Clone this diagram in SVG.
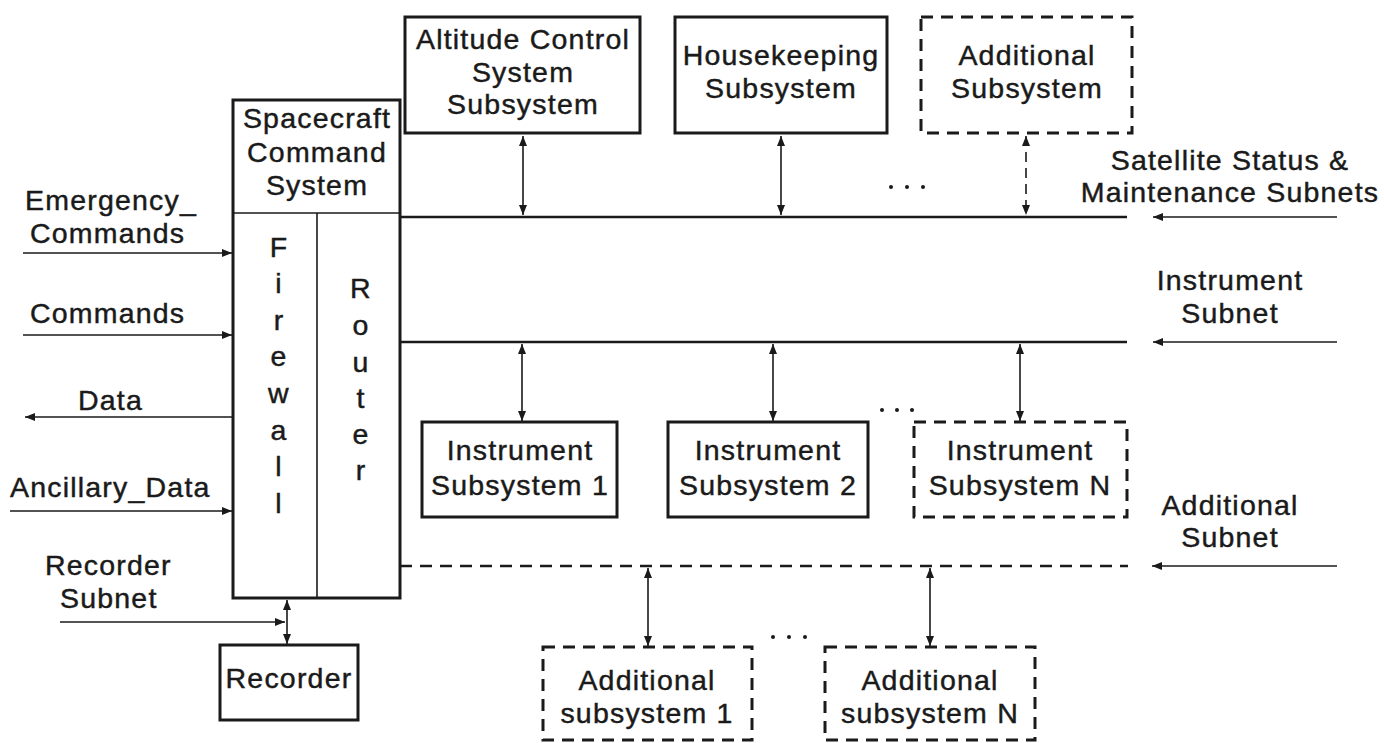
<svg xmlns="http://www.w3.org/2000/svg" width="1384" height="743" viewBox="0 0 1384 743">
<defs>
<marker id="ah" viewBox="0 0 10 8" refX="10" refY="4" markerWidth="11" markerHeight="8" markerUnits="userSpaceOnUse" orient="auto-start-reverse">
<path d="M0,0 L10,4 L0,8 z" fill="#1a1a1a"/>
</marker>
</defs>
<style>
text{font-family:"Liberation Sans",Arial,Helvetica,sans-serif;font-size:28.5px;fill:#1a1a1a;stroke:#1a1a1a;stroke-width:0.45px;letter-spacing:1.2px}
.m{text-anchor:middle}
.box{fill:#fff;stroke:#1a1a1a;stroke-width:3}
.dbox{fill:#fff;stroke:#1a1a1a;stroke-width:3;stroke-dasharray:12 8}
.bus{stroke:#1a1a1a;stroke-width:2.5;fill:none}
.dbus{stroke:#1a1a1a;stroke-width:2.5;fill:none;stroke-dasharray:12 8}
.ca{stroke:#1a1a1a;stroke-width:1.6;fill:none;marker-end:url(#ah)}
.cb{stroke:#1a1a1a;stroke-width:1.6;fill:none;marker-start:url(#ah);marker-end:url(#ah)}
.cbd{stroke:#1a1a1a;stroke-width:1.6;fill:none;stroke-dasharray:10 6;marker-start:url(#ah);marker-end:url(#ah)}
.thin{stroke:#1a1a1a;stroke-width:1.6}
.dots{fill:#1a1a1a}
</style>
<rect width="1384" height="743" fill="#fff"/>

<g id="connectors">
<line class="bus" x1="400" y1="217" x2="1127" y2="217"/>
<line class="bus" x1="400" y1="342" x2="1127" y2="342"/>
<line class="dbus" x1="400" y1="566" x2="1128" y2="566"/>
<line class="ca" x1="1337" y1="217" x2="1153" y2="217"/>
<line class="ca" x1="1337" y1="342" x2="1153" y2="342"/>
<line class="ca" x1="1337" y1="566" x2="1152" y2="566"/>
<line class="cb" x1="523" y1="136" x2="523" y2="215"/>
<line class="cb" x1="781" y1="136" x2="781" y2="215"/>
<line class="cbd" x1="1026" y1="136" x2="1026" y2="215"/>
<line class="cb" x1="522" y1="344" x2="522" y2="421"/>
<line class="cb" x1="773" y1="344" x2="773" y2="421"/>
<line class="cb" x1="1020" y1="344" x2="1020" y2="421"/>
<line class="cb" x1="648" y1="568" x2="648" y2="646"/>
<line class="cb" x1="930" y1="568" x2="930" y2="646"/>
<line class="ca" x1="23" y1="253" x2="232" y2="253"/>
<line class="ca" x1="23" y1="335" x2="232" y2="335"/>
<line class="ca" x1="233" y1="417" x2="25" y2="417"/>
<line class="ca" x1="10" y1="511" x2="232" y2="511"/>
<line class="cb" x1="287" y1="600" x2="287" y2="644"/>
<line class="ca" x1="60" y1="622" x2="285" y2="622"/>
</g>

<g id="spacecraft-command-system">
<rect class="box" x="233" y="100" width="167" height="498"/>
<line class="thin" x1="233" y1="213" x2="400" y2="213"/>
<line class="thin" x1="317" y1="213" x2="317" y2="598"/>
<text class="m" x="317" y="128">Spacecraft</text>
<text class="m" x="317" y="162">Command</text>
<text class="m" x="317" y="195">System</text>
</g>

<g id="firewall">
<text class="m" x="279" y="257">F</text>
<text class="m" x="279" y="293">i</text>
<text class="m" x="279" y="330">r</text>
<text class="m" x="279" y="366">e</text>
<text class="m" x="279" y="403">w</text>
<text class="m" x="279" y="440">a</text>
<text class="m" x="279" y="476">l</text>
<text class="m" x="279" y="513">l</text>
</g>

<g id="router">
<text class="m" x="361" y="298">R</text>
<text class="m" x="361" y="335">o</text>
<text class="m" x="361" y="372">u</text>
<text class="m" x="361" y="408">t</text>
<text class="m" x="361" y="444">e</text>
<text class="m" x="361" y="480">r</text>
</g>

<g id="recorder">
<rect class="box" x="220" y="645" width="138" height="75"/>
<text class="m" x="289" y="688">Recorder</text>
</g>

<g id="altitude-control">
<rect class="box" x="405" y="17" width="235" height="116"/>
<text class="m" x="523" y="49">Altitude Control</text>
<text class="m" x="523" y="82">System</text>
<text class="m" x="523" y="114">Subsystem</text>
</g>

<g id="housekeeping">
<rect class="box" x="675" y="17" width="212" height="116"/>
<text class="m" x="781" y="65">Housekeeping</text>
<text class="m" x="781" y="98">Subsystem</text>
</g>

<g id="additional-subsystem">
<rect class="dbox" x="921" y="17" width="211" height="116"/>
<text class="m" x="1027" y="65">Additional</text>
<text class="m" x="1027" y="98">Subsystem</text>
</g>

<g id="instrument-1">
<rect class="box" x="422" y="422" width="195" height="95"/>
<text class="m" x="520" y="460">Instrument</text>
<text class="m" x="520" y="495">Subsystem 1</text>
</g>

<g id="instrument-2">
<rect class="box" x="668" y="422" width="200" height="95"/>
<text class="m" x="768" y="460">Instrument</text>
<text class="m" x="768" y="495">Subsystem 2</text>
</g>

<g id="instrument-n">
<rect class="dbox" x="914" y="422" width="213" height="95"/>
<text class="m" x="1020" y="460">Instrument</text>
<text class="m" x="1020" y="495">Subsystem N</text>
</g>

<g id="additional-1">
<rect class="dbox" x="543" y="647" width="209" height="93"/>
<text class="m" x="647" y="690">Additional</text>
<text class="m" x="647" y="723">subsystem 1</text>
</g>

<g id="additional-n">
<rect class="dbox" x="825" y="647" width="210" height="93"/>
<text class="m" x="930" y="690">Additional</text>
<text class="m" x="930" y="723">subsystem N</text>
</g>

<g id="labels">
<text x="25" y="210">Emergency_</text>
<text x="30" y="243">Commands</text>
<text x="30" y="323">Commands</text>
<text x="78" y="410">Data</text>
<text x="10" y="497">Ancillary_Data</text>
<text x="45" y="575">Recorder</text>
<text x="60" y="608">Subnet</text>
<text class="m" x="1230" y="170">Satellite Status &amp;</text>
<text class="m" x="1230" y="202">Maintenance Subnets</text>
<text class="m" x="1230" y="290">Instrument</text>
<text class="m" x="1230" y="323">Subnet</text>
<text class="m" x="1230" y="515">Additional</text>
<text class="m" x="1230" y="547">Subnet</text>
</g>

<g id="ellipses" class="dots">
<circle cx="891" cy="187" r="2"/><circle cx="907" cy="187" r="2"/><circle cx="923" cy="187" r="2"/>
<circle cx="882" cy="410" r="2"/><circle cx="897" cy="410" r="2"/><circle cx="912" cy="410" r="2"/>
<circle cx="773" cy="637" r="2"/><circle cx="789" cy="637" r="2"/><circle cx="805" cy="637" r="2"/>
</g>
</svg>
